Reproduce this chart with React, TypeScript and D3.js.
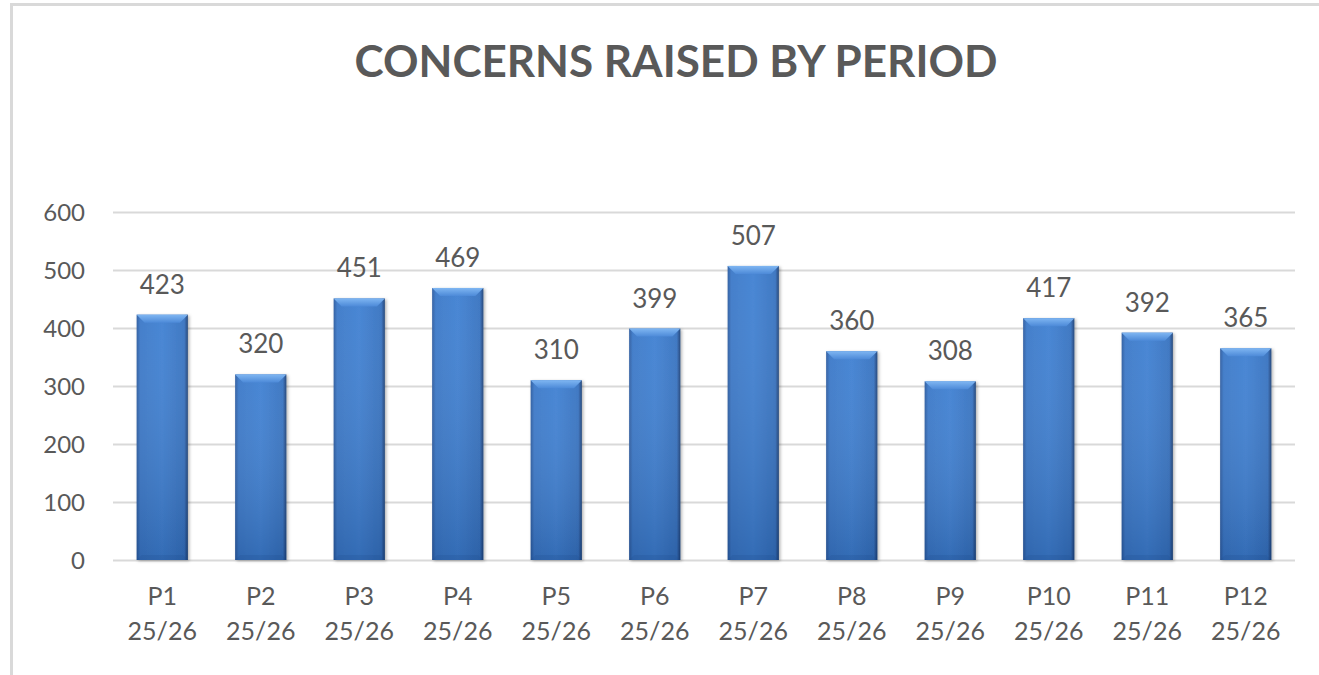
import { useEffect, useRef } from "react";
import * as d3 from "d3";

const PERIODS = ["P1", "P2", "P3", "P4", "P5", "P6", "P7", "P8", "P9", "P10", "P11", "P12"];
const YEAR = "25/26";
const CONCERNS = [423, 320, 451, 469, 310, 399, 507, 360, 308, 417, 392, 365];
const Y_TICKS = [0, 100, 200, 300, 400, 500, 600];
const TITLE = "CONCERNS RAISED BY PERIOD";

const FONT = "Lato, 'Open Sans', sans-serif";
const TEXT = "#595959";

export default function App() {
  const svgRef = useRef<SVGSVGElement>(null);

  useEffect(() => {
    const svg = svgRef.current;
    if (!svg) return;
    const W = 1319;
    const H = 675;
    const m = { top: 212, left: 113 };
    const iW = 1295 - m.left;
    const iH = 560 - m.top;

    const s = d3.select(svg);
    s.selectAll("*").remove();
    s.attr("width", W).attr("height", H);

    const defs = s.append("defs");
    const hGrad = defs
      .append("linearGradient")
      .attr("id", "barH")
      .attr("x1", "0")
      .attr("x2", "1")
      .attr("y1", "0")
      .attr("y2", "0");
    hGrad.append("stop").attr("offset", "0").attr("stop-color", "#2a5a9e");
    hGrad.append("stop").attr("offset", "0.07").attr("stop-color", "#3a78c8");
    hGrad.append("stop").attr("offset", "0.5").attr("stop-color", "#3f80d2");
    hGrad.append("stop").attr("offset", "0.93").attr("stop-color", "#3672c0");
    hGrad.append("stop").attr("offset", "1").attr("stop-color", "#1d3f75");

    const vGrad = defs
      .append("linearGradient")
      .attr("id", "barV")
      .attr("x1", "0")
      .attr("x2", "0")
      .attr("y1", "0")
      .attr("y2", "1");
    vGrad.append("stop").attr("offset", "0").attr("stop-color", "#ffffff").attr("stop-opacity", 0.05);
    vGrad.append("stop").attr("offset", "1").attr("stop-color", "#0a2550").attr("stop-opacity", 0.22);

    const topGrad = defs
      .append("linearGradient")
      .attr("id", "barTop")
      .attr("x1", "0")
      .attr("x2", "0")
      .attr("y1", "0")
      .attr("y2", "1");
    topGrad.append("stop").attr("offset", "0").attr("stop-color", "#7fb6f2");
    topGrad.append("stop").attr("offset", "1").attr("stop-color", "#4d8ad8");

    const shadow = defs.append("filter").attr("id", "shadow").attr("x", "-20%").attr("width", "140%");
    shadow
      .append("feDropShadow")
      .attr("dx", 1.5)
      .attr("dy", 1)
      .attr("stdDeviation", 1.5)
      .attr("flood-color", "#000")
      .attr("flood-opacity", 0.3);

    // Outer frame (top and left edges visible)
    s.append("rect").attr("x", 10).attr("y", 3).attr("width", W - 10).attr("height", 3).attr("fill", "#d9d9d9");
    s.append("rect").attr("x", 10).attr("y", 3).attr("width", 3).attr("height", H).attr("fill", "#d9d9d9");

    s.append("text")
      .attr("x", 676)
      .attr("y", 77)
      .attr("text-anchor", "middle")
      .attr("fill", TEXT)
      .attr("font-family", FONT)
      .attr("font-weight", "bold")
      .attr("font-size", 44)
      .text(TITLE);

    const g = s.append("g").attr("transform", `translate(${m.left},${m.top})`);

    const x = d3.scaleBand().domain(PERIODS).range([0, iW]).paddingInner(0.48).paddingOuter(0.24);
    const y = d3.scaleLinear().domain([0, 600]).range([iH, 0]);

    // Gridlines
    g.append("g")
      .call(
        d3
          .axisLeft(y)
          .tickValues(Y_TICKS)
          .tickSize(-iW)
          .tickFormat(() => ""),
      )
      .call((ax) => {
        ax.select(".domain").remove();
        ax.selectAll(".tick line").attr("stroke", "#d9d9d9").attr("stroke-width", 2);
      });

    // Y labels
    g.append("g")
      .selectAll("text")
      .data(Y_TICKS)
      .join("text")
      .attr("x", -28)
      .attr("y", (d) => y(d))
      .attr("dy", "0.36em")
      .attr("text-anchor", "end")
      .attr("fill", TEXT)
      .attr("font-family", FONT)
      .attr("font-size", 24)
      .text((d) => d);

    // X labels
    const xl = g
      .append("g")
      .selectAll("text")
      .data(PERIODS)
      .join("text")
      .attr("text-anchor", "middle")
      .attr("fill", TEXT)
      .attr("font-family", FONT)
      .attr("font-size", 25);
    xl.append("tspan")
      .attr("x", (d) => (x(d) ?? 0) + x.bandwidth() / 2)
      .attr("y", iH + 45)
      .text((d) => d);
    xl.append("tspan")
      .attr("x", (d) => (x(d) ?? 0) + x.bandwidth() / 2)
      .attr("y", iH + 80)
      .text(YEAR);

    const data = PERIODS.map((p, i) => ({ p, v: CONCERNS[i] }));
    const bw = x.bandwidth();
    const bev = 8;

    const bars = g
      .append("g")
      .selectAll("g")
      .data(data)
      .join("g")
      .attr("transform", (d) => `translate(${x(d.p) ?? 0},${y(d.v)})`);

    bars
      .append("rect")
      .attr("width", bw)
      .attr("height", (d) => iH - y(d.v))
      .attr("fill", "url(#barH)")
      .attr("filter", "url(#shadow)");
    bars
      .append("rect")
      .attr("width", bw)
      .attr("height", (d) => iH - y(d.v))
      .attr("fill", "url(#barV)");
    // top bevel
    bars
      .append("path")
      .attr("d", `M0,0 L${bw},0 L${bw - bev},${bev} L${bev},${bev} Z`)
      .attr("fill", "url(#barTop)");
    // bottom bevel
    bars
      .append("path")
      .attr("d", (d) => {
        const h = iH - y(d.v);
        return `M0,${h} L${bw},${h} L${bw - 5},${h - 5} L${5},${h - 5} Z`;
      })
      .attr("fill", "#1f4a8a")
      .attr("opacity", 0.2);

    // Value labels
    g.append("g")
      .selectAll("text")
      .data(data)
      .join("text")
      .attr("x", (d) => (x(d.p) ?? 0) + bw / 2)
      .attr("y", (d) => y(d.v) - 21)
      .attr("text-anchor", "middle")
      .attr("fill", TEXT)
      .attr("font-family", FONT)
      .attr("font-size", 26)
      .text((d) => d.v);
  }, []);

  return (
    <div style={{ position: "fixed", top: 0, left: 0, background: "#fff" }}>
      <svg ref={svgRef} style={{ display: "block" }} />
    </div>
  );
}
